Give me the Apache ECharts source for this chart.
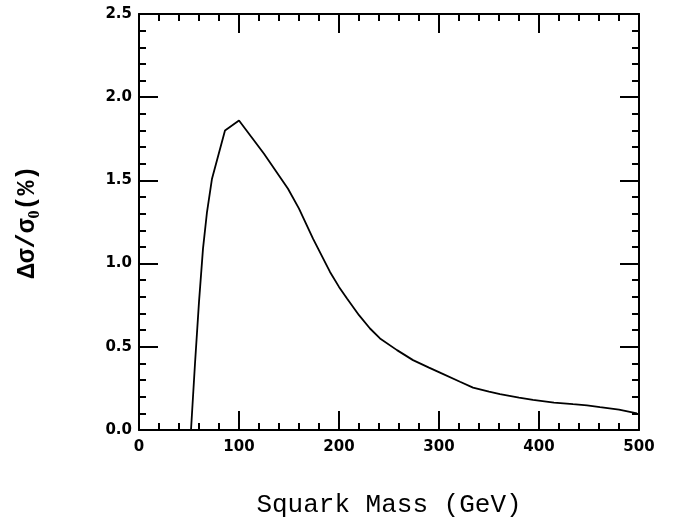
<!DOCTYPE html>
<html>
<head>
<meta charset="utf-8">
<script src="https://cdn.jsdelivr.net/npm/echarts@6/dist/echarts.min.js"></script>
<style>html,body{margin:0;padding:0;background:#fff}#c{width:680px;height:523px}</style>
</head>
<body>
<div id="c"></div>
<script>
// Squark mass (GeV)
var mass = [52, 56, 60, 64, 68, 73, 86, 100, 125, 149, 160, 174, 191, 200, 208, 220, 231, 241, 258, 274, 290, 301, 321, 334, 350, 361, 380, 394, 415, 434, 448, 461, 480, 498];
// Delta sigma / sigma0 (%)
var ratio = [0.0, 0.40, 0.77, 1.09, 1.31, 1.51, 1.80, 1.86, 1.66, 1.45, 1.33, 1.15, 0.95, 0.86, 0.79, 0.69, 0.61, 0.55, 0.48, 0.42, 0.375, 0.345, 0.29, 0.255, 0.23, 0.215, 0.195, 0.181, 0.165, 0.155, 0.148, 0.137, 0.122, 0.10];
var xTicks = [0, 100, 200, 300, 400, 500];
var yTicks = ['0.0', '0.5', '1.0', '1.5', '2.0', '2.5'];

var data = mass.map(function (m, i) { return [m, ratio[i]]; });
var tickFont = { fontFamily: 'DejaVu Sans', fontWeight: 'bold', fontSize: 15, color: '#000' };
function axisCommon(showLabel) {
  return {
    axisLine: { show: true, onZero: false, lineStyle: { color: '#000', width: 2 } },
    axisTick: { show: true, inside: true, length: 19, lineStyle: { color: '#000', width: 2 } },
    minorTick: { show: true, splitNumber: 5, length: 7, lineStyle: { color: '#000', width: 2 } },
    splitLine: { show: false },
    minorSplitLine: { show: false },
    axisLabel: showLabel ? Object.assign({}, tickFont) : { show: false }
  };
}
var xb = Object.assign(axisCommon(true), {
  type: 'value', position: 'bottom', min: 0, max: 500, interval: 100,
  name: 'Squark Mass (GeV)', nameLocation: 'middle', nameGap: 62,
  nameTextStyle: { fontFamily: 'Liberation Mono', fontSize: 26, color: '#000' }
});
xb.axisLabel.margin = 10;
xb.axisLabel.formatter = function (v) { return xTicks.indexOf(v) >= 0 ? String(v) : ''; };
var xt = Object.assign(axisCommon(false), { type: 'value', position: 'top', min: 0, max: 500, interval: 100 });
var yl = Object.assign(axisCommon(true), {
  type: 'value', position: 'left', min: 0, max: 2.5, interval: 0.5,
  name: '{a|Δσ/σ}{b|0}{a|(%)}', nameLocation: 'middle', nameGap: 96, nameRotate: 90,
  nameTextStyle: {
    rich: {
      a: { fontFamily: 'Liberation Mono', fontWeight: 'bold', fontSize: 25, lineHeight: 30, color: '#000' },
      b: { fontFamily: 'Liberation Serif', fontWeight: 'bold', fontSize: 16, lineHeight: 15, verticalAlign: 'bottom', color: '#000' }
    }
  }
});
yl.axisLabel.margin = 7;
yl.axisLabel.formatter = function (v) { return yTicks[Math.round(v / 0.5)]; };
var yr = Object.assign(axisCommon(false), { type: 'value', position: 'right', min: 0, max: 2.5, interval: 0.5 });

var chart = echarts.init(document.getElementById('c'), null, { renderer: 'canvas' });
chart.setOption({
  animation: false,
  backgroundColor: '#fff',
  grid: { left: 139, right: 41, top: 14, bottom: 91, containLabel: false },
  xAxis: [xb, xt],
  yAxis: [yl, yr],
  series: [{
    type: 'line', xAxisIndex: 0, yAxisIndex: 0, data: data,
    showSymbol: false, smooth: false,
    lineStyle: { color: '#000', width: 1.8 }
  }]
});
</script>
</body>
</html>
